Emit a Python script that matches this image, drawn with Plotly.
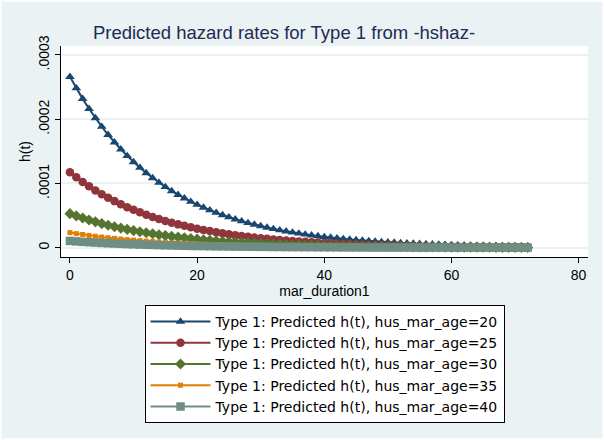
import plotly.graph_objects as go

# mar_duration1 values (x)
t = list(range(0, 73))

# Predicted hazard h(t), in units of 1e-6
h_age20 = [266, 248.3, 231.7, 216.3, 201.8, 188.4, 175.8, 164.1, 153.2, 142.9,
           133.4, 124.5, 116.2, 108.5, 101.2, 94.5, 88.2, 82.3, 76.8, 71.7,
           66.9, 62.5, 58.3, 54.4, 50.8, 47.4, 44.2, 41.3, 38.5, 36.0,
           33.6, 31.3, 29.2, 27.3, 25.5, 23.8, 22.2, 20.7, 19.3, 18.0,
           16.8, 15.7, 14.7, 13.7, 12.8, 11.9, 11.1, 10.4, 9.7, 9.0,
           8.4, 7.9, 7.4, 6.9, 6.4, 6.0, 5.6, 5.2, 4.9, 4.5,
           4.2, 3.95, 3.7, 3.4, 3.2, 3.0, 2.8, 2.6, 2.4, 2.3,
           2.1, 1.98, 1.85]
h_age25 = [117.5, 109.7, 102.4, 95.5, 89.2, 83.2, 77.7, 72.5, 67.7, 63.1,
           58.9, 55.0, 51.3, 47.9, 44.7, 41.7, 38.9, 36.3, 34.0, 31.7,
           29.6, 27.6, 25.8, 24.0, 22.4, 20.9, 19.5, 18.2, 17.0, 15.9,
           14.8, 13.8, 12.9, 12.1, 11.3, 10.5, 9.8, 9.1, 8.5, 8.0,
           7.4, 6.9, 6.5, 6.1, 5.6, 5.3, 4.9, 4.6, 4.3, 4.0,
           3.7, 3.5, 3.3, 3.0, 2.8, 2.6, 2.5, 2.3, 2.1, 2.0,
           1.9, 1.7, 1.6, 1.5, 1.4, 1.3, 1.2, 1.15, 1.1, 1.0,
           0.94, 0.88, 0.82]
h_age30 = [53.0, 49.5, 46.2, 43.1, 40.2, 37.5, 35.0, 32.7, 30.5, 28.5,
           26.6, 24.8, 23.2, 21.6, 20.2, 18.8, 17.6, 16.4, 15.3, 14.3,
           13.3, 12.4, 11.6, 10.8, 10.1, 9.4, 8.8, 8.2, 7.7, 7.2,
           6.7, 6.2, 5.8, 5.4, 5.1, 4.7, 4.4, 4.1, 3.9, 3.6,
           3.4, 3.1, 2.9, 2.7, 2.5, 2.4, 2.2, 2.1, 1.9, 1.8,
           1.7, 1.6, 1.5, 1.4, 1.3, 1.2, 1.1, 1.04, 0.97, 0.90,
           0.84, 0.79, 0.74, 0.69, 0.64, 0.60, 0.56, 0.52, 0.49, 0.45,
           0.42, 0.40, 0.37]
h_age35 = [23.5, 21.9, 20.5, 19.1, 17.8, 16.6, 15.5, 14.5, 13.5, 12.6,
           11.8, 11.0, 10.3, 9.6, 8.9, 8.3, 7.8, 7.3, 6.8, 6.3,
           5.9, 5.5, 5.2, 4.8, 4.5, 4.2, 3.9, 3.6, 3.4, 3.2,
           3.0, 2.8, 2.6, 2.4, 2.3, 2.1, 2.0, 1.8, 1.7, 1.6,
           1.5, 1.4, 1.3, 1.2, 1.1, 1.05, 0.98, 0.92, 0.86, 0.80,
           0.75, 0.70, 0.65, 0.61, 0.57, 0.53, 0.49, 0.46, 0.43, 0.40,
           0.37, 0.35, 0.33, 0.30, 0.28, 0.27, 0.25, 0.23, 0.22, 0.20,
           0.19, 0.18, 0.16]
h_age40 = [10.5, 9.8, 9.1, 8.5, 8.0, 7.4, 6.9, 6.5, 6.0, 5.6,
           5.3, 4.9, 4.6, 4.3, 4.0, 3.7, 3.5, 3.2, 3.0, 2.8,
           2.6, 2.5, 2.3, 2.1, 2.0, 1.9, 1.7, 1.6, 1.5, 1.4,
           1.3, 1.24, 1.15, 1.08, 1.0, 0.94, 0.88, 0.82, 0.76, 0.71,
           0.66, 0.62, 0.58, 0.54, 0.50, 0.47, 0.44, 0.41, 0.38, 0.36,
           0.33, 0.31, 0.29, 0.27, 0.25, 0.24, 0.22, 0.21, 0.19, 0.18,
           0.17, 0.16, 0.15, 0.14, 0.13, 0.12, 0.11, 0.10, 0.10, 0.09,
           0.08, 0.08, 0.07]

series_names = ["Type 1: Predicted h(t), hus_mar_age=20",
                "Type 1: Predicted h(t), hus_mar_age=25",
                "Type 1: Predicted h(t), hus_mar_age=30",
                "Type 1: Predicted h(t), hus_mar_age=35",
                "Type 1: Predicted h(t), hus_mar_age=40"]

y_tickvals = [0, 0.0001, 0.0002, 0.0003]
y_ticktext = ["0", ".0001", ".0002", ".0003"]
x_tickvals = [0, 20, 40, 60, 80]

colors = ["#1a476f", "#90353b", "#55752f", "#e37e00", "#6e8e84"]
symbols = ["triangle-up", "circle", "diamond", "square", "square"]
msizes = [8.5, 8.5, 8.5, 5, 8.5]

FONT = "Liberation Sans"
fig = go.Figure()
for name, vals, c, s, ms in zip(series_names,
                                [h_age20, h_age25, h_age30, h_age35, h_age40],
                                colors, symbols, msizes):
    fig.add_trace(go.Scatter(
        x=t, y=[v * 1e-6 for v in vals], name=name, mode="lines+markers",
        line=dict(color=c, width=2),
        marker=dict(symbol=s, size=ms, color=c, line=dict(width=0)),
    ))

W, H = 604, 440
ml, mr, mt, mb = 61, 16, 46, 183
fig.update_layout(
    width=W, height=H,
    margin=dict(l=ml, r=mr, t=mt, b=mb, autoexpand=False),
    paper_bgcolor="#eaf2f3", plot_bgcolor="white",
    font=dict(family=FONT, size=14, color="black"),
    title=dict(text="Predicted hazard rates for Type 1 from -hshaz-",
               x=284 / W, xanchor="center", y=1 - 33 / H, yanchor="middle",
               yref="container", xref="container",
               font=dict(family=FONT, size=18.5, color="#1e2b52")),
    xaxis=dict(range=[-1.41, 81.48], tickvals=x_tickvals,
               showgrid=False, zeroline=False, showline=True,
               linecolor="black", linewidth=1, ticks="outside", ticklen=5,
               tickcolor="black", tickfont=dict(size=14),
               title=dict(text="mar_duration1", font=dict(size=14), standoff=4)),
    yaxis=dict(range=[-0.145e-4, 3.14e-4], tickvals=y_tickvals,
               ticktext=y_ticktext, tickangle=-90,
               showgrid=True, gridcolor="#eaf2f3", gridwidth=2,
               zeroline=False, showline=True, linecolor="black", linewidth=1,
               ticks="outside", ticklen=5, tickcolor="black",
               tickfont=dict(size=14),
               title=dict(text="h(t)", font=dict(size=14), standoff=2)),
    legend=dict(x=0.5, xanchor="center", y=(257 - 305) / (H - mt - mb),
                yanchor="top", bgcolor="white", bordercolor="black",
                borderwidth=1, font=dict(size=14, family="DejaVu Sans"),
                itemwidth=60, tracegroupgap=0),
    showlegend=True,
)
pw = W - ml - mr
ph = H - mt - mb
fig.add_shape(type="rect", xref="paper", yref="paper",
              x0=-ml / pw, x1=1 + mr / pw, y0=-mb / ph, y1=1 + mt / ph,
              line=dict(color="white", width=3), layer="above")
fig.write_html("out.html",
               config={"displayModeBar": False},
               post_script="document.body.style.margin='0';"
                           "document.body.style.padding='0';")
